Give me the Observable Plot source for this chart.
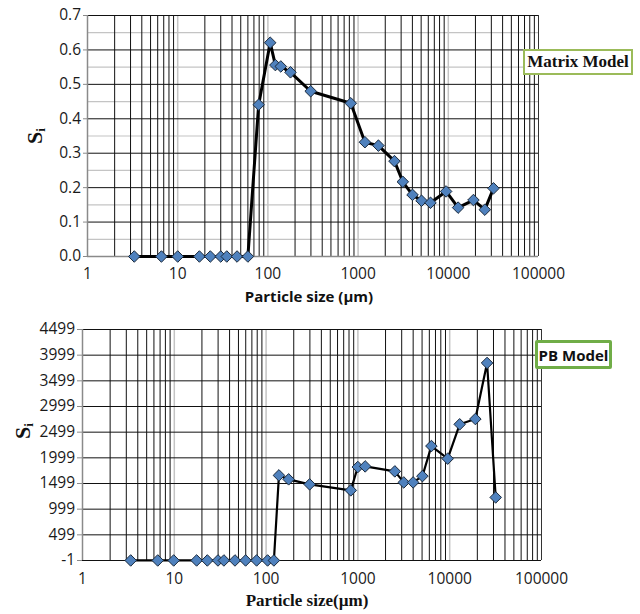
<!DOCTYPE html>
<html>
<head>
<meta charset="utf-8">
<script src="https://cdn.jsdelivr.net/npm/d3@7"></script>
<script src="https://cdn.jsdelivr.net/npm/@observablehq/plot@0.6"></script>
<style>
  html, body { margin: 0; padding: 0; background: #fff; }
  #wrap { position: relative; width: 640px; height: 614px; overflow: hidden; background: #fff; }
  #wrap svg { position: absolute; left: 0; }
  .ylab { position: absolute; font-family: "Liberation Serif", serif; font-weight: bold; font-size: 22px; color: #111;
          transform: translate(-50%, -50%) rotate(-90deg); white-space: nowrap; line-height: 1; }
  .ylab sub { font-size: 13px; vertical-align: -3px; }
  .xtitle { position: absolute; white-space: nowrap; line-height: 1; color: #111; transform: translateX(-50%); font-weight: bold; }
  .legend { position: absolute; box-sizing: border-box; background: #fff; font-weight: bold; color: #111;
            display: flex; align-items: center; justify-content: center; white-space: nowrap; }
</style>
</head>
<body>
<div id="wrap"></div>
<script>
// ---------- data: Matrix Model (top) ----------
const matrixSize = [3.3, 6.6, 10, 17.4, 23, 30, 35, 45.5, 60, 79, 106, 121, 139, 178, 298,
  830, 1190, 1680, 2530, 3130, 4010, 5050, 6350, 9460, 12850, 19000, 25400, 31700];
const matrixS = [0, 0, 0, 0, 0, 0, 0, 0, 0, 0.441, 0.621, 0.556, 0.552, 0.535, 0.480,
  0.445, 0.332, 0.322, 0.277, 0.217, 0.179, 0.162, 0.156, 0.189, 0.142, 0.164, 0.136, 0.198];

// ---------- data: PB Model (bottom) ----------
const pbSize = [3.35, 6.6, 9.85, 17.5, 22.9, 29.9, 34.7, 45.8, 59.8, 78.8, 103.8, 121.6,
  138, 176, 298, 836, 998, 1200, 2525, 3160, 3995, 5045, 6320, 9510, 12850, 19040, 25530, 31700];
const pbS = [0, 0, 0, 0, 0, 0, 0, 0, 0, 0, 0, 0,
  1657, 1580, 1482, 1365, 1820, 1832, 1735, 1520, 1520, 1643, 2229, 1983, 2652, 2755, 3847, 1228];

// ---------- tick labels ----------
const xTickLabels = ["1", "10", "100", "1000", "10000", "100000"];
const topYTicks = ["0.0", "0.1", "0.2", "0.3", "0.4", "0.5", "0.6", "0.7"];
const botYTicks = ["-1", "499", "999", "1499", "1999", "2499", "2999", "3499", "3999", "4499"];

const decades = xTickLabels.map(Number);
const minorX = [];
for (const d of decades.slice(0, -1)) for (let k = 2; k <= 9; k++) minorX.push(k * d);

const matrixData = matrixSize.map((x, i) => ({x, y: matrixS[i]}));
const pbData = pbSize.map((x, i) => ({x, y: pbS[i]}));

const wrap = document.getElementById("wrap");
const xFmt = d => xTickLabels[decades.indexOf(d)] ?? String(d);

// ---------- top chart ----------
const topMajorY = topYTicks.map(Number);
const topMinorY = topMajorY.slice(0, -1).map(v => +(v + 0.05).toFixed(2));
const topFmt = d => topYTicks[topMajorY.indexOf(d)] ?? String(d);

const topPlot = Plot.plot({
  width: 640, height: 306,
  marginLeft: 87, marginRight: 102, marginTop: 15, marginBottom: 50,
  x: {type: "log", domain: [1, 100000]},
  y: {domain: [0, 0.7]},
  style: {fontFamily: "'Open Sans', sans-serif", fontSize: "15.5px", color: "#1a1a1a", background: "transparent"},
  marks: [
    Plot.ruleY(topMinorY, {stroke: "#c4c4c4", strokeWidth: 1.2}),
    Plot.ruleX(decades.slice(1, -1), {stroke: "#c4c4c4", strokeWidth: 1.5}),
    Plot.ruleX(minorX, {stroke: "#111", strokeWidth: 1}),
    Plot.ruleX([100000], {stroke: "#333", strokeWidth: 1}),
    Plot.ruleY(topMajorY.slice(1), {stroke: "#111", strokeWidth: 1}),
    Plot.ruleY([0], {stroke: "#8a8a8a", strokeWidth: 1.5}),
    Plot.ruleX([1], {stroke: "#8a8a8a", strokeWidth: 1.5}),
    Plot.axisX({ticks: decades, tickSize: 0, tickPadding: 11, tickFormat: xFmt, label: null}),
    Plot.axisY({ticks: topMajorY, tickSize: 4, tickPadding: 2.5, tickFormat: topFmt, label: null, stroke: "#8a8a8a"}),
    Plot.line(matrixData, {x: "x", y: "y", stroke: "#000", strokeWidth: 3, strokeLinejoin: "round"}),
    Plot.dot(matrixData, {x: "x", y: "y", symbol: "diamond2", r: 5.2, fill: "#4f81bd", stroke: "#1b2a3c", strokeWidth: 1})
  ]
});
topPlot.style.top = "0px";
wrap.appendChild(topPlot);

// ---------- bottom chart ----------
const botMajorY = botYTicks.map(Number);
const botFmt = d => botYTicks[botMajorY.indexOf(d)] ?? String(d);
const botPlot = Plot.plot({
  width: 640, height: 308,
  marginLeft: 82, marginRight: 99, marginTop: 23, marginBottom: 54,
  x: {type: "log", domain: [1, 100000]},
  y: {domain: [-1, 4499]},
  style: {fontFamily: "'Open Sans', sans-serif", fontSize: "15.5px", color: "#1a1a1a", background: "transparent"},
  marks: [
    Plot.ruleX(decades.slice(1, -1), {stroke: "#c4c4c4", strokeWidth: 1.5}),
    Plot.ruleX(minorX, {stroke: "#111", strokeWidth: 1}),
    Plot.ruleX([100000], {stroke: "#333", strokeWidth: 1}),
    Plot.ruleY(botMajorY, {stroke: "#111", strokeWidth: 1}),
    Plot.ruleX([1], {stroke: "#8a8a8a", strokeWidth: 1.5}),
    Plot.axisX({ticks: decades, tickSize: 0, tickPadding: 12.5, tickFormat: xFmt, label: null}),
    Plot.axisY({ticks: botMajorY, tickSize: 5, tickPadding: 2.5, tickFormat: botFmt, label: null, stroke: "#8a8a8a"}),
    Plot.line(pbData, {x: "x", y: "y", stroke: "#000", strokeWidth: 2.2, strokeLinejoin: "round"}),
    Plot.dot(pbData, {x: "x", y: "y", symbol: "diamond2", r: 5.2, fill: "#4f81bd", stroke: "#1b2a3c", strokeWidth: 1})
  ]
});
botPlot.style.top = "306px";
wrap.appendChild(botPlot);

// ---------- titles & legends ----------
function addDiv(cls, html, css) {
  const d = document.createElement("div");
  d.className = cls;
  d.innerHTML = html;
  Object.assign(d.style, css);
  wrap.appendChild(d);
  return d;
}
addDiv("ylab", "S<sub>i</sub>", {left: "35px", top: "136px"});
addDiv("ylab", "S<sub>i</sub>", {left: "23px", top: "431px"});
addDiv("xtitle", "Particle size (µm)", {left: "309px", top: "289px", fontFamily: "'Open Sans', sans-serif", fontSize: "15px"});
addDiv("xtitle", "Particle size(µm)", {left: "307px", top: "592px", fontFamily: "'Liberation Serif', serif", fontSize: "17px"});
addDiv("legend", "Matrix Model", {left: "523px", top: "49px", width: "110px", height: "26px",
  border: "2.5px solid #9bbb59", fontFamily: "'Liberation Serif', serif", fontSize: "17px"});
addDiv("legend", "PB Model", {left: "535px", top: "340px", width: "77px", height: "29px",
  border: "3px solid #70ad47", borderRadius: "2px", fontFamily: "'Open Sans', sans-serif", fontSize: "15px"});
</script>
</body>
</html>
